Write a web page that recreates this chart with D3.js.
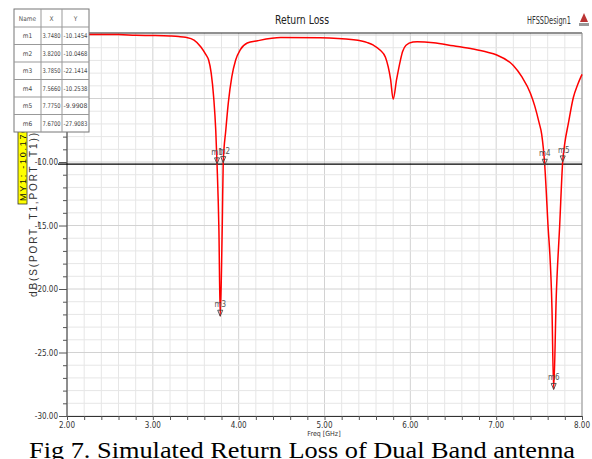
<!DOCTYPE html>
<html lang="en">
<head>
    <meta charset="utf-8">
    <style type="text/css">
        body { margin: 0; background: #fff; }
        svg { display: block; background: #fff; }
        .narrow { font-family: 'Liberation Sans Narrow', 'DejaVu Sans', sans-serif; font-stretch: condensed; }
        .grid line { stroke: #e6e6e6; stroke-width: 1px; }
        .grid line.major { stroke: #d2d2d2; }
        .curve { fill: none; stroke: #ff0000; stroke-width: 1.5px; }
    </style>
</head>
<body>
<svg width="592" height="459"></svg>

<script src="https://cdn.jsdelivr.net/npm/d3@7/dist/d3.min.js"></script>
<script type="text/javascript">

    // S11 curve (GHz / dB)
    var freq = [2.0, 2.3, 2.6, 2.8, 3.0, 3.2, 3.3, 3.38, 3.48, 3.56, 3.62, 3.65, 3.68, 3.71, 3.733, 3.748,
        3.77, 3.785, 3.80, 3.81, 3.82, 3.85, 3.88, 3.92, 3.965, 4.02, 4.1, 4.22, 4.49, 4.95, 5.34, 5.5,
        5.57, 5.65, 5.71, 5.77, 5.8, 5.84, 5.885, 5.91, 5.95, 6.03, 6.08, 6.27, 6.5, 6.73, 6.9, 7.0,
        7.2, 7.3, 7.4, 7.45, 7.5, 7.53, 7.566, 7.6, 7.65, 7.67, 7.70, 7.74, 7.775, 7.8, 7.84, 7.9, 7.95, 8.0];
    var s11 = [0.05, 0.05, 0.04, -0.02, -0.04, -0.08, -0.12, -0.18, -0.4, -0.94, -1.57, -1.97, -3.0, -5.0, -7.5, -10.15,
        -15.4, -22.14, -18.5, -14.5, -10.05, -7.5, -5.3, -3.3, -1.97, -1.15, -0.63, -0.45, -0.2, -0.22, -0.38, -0.6,
        -0.8, -1.2, -1.75, -3.5, -5.05, -3.5, -1.97, -1.3, -0.8, -0.55, -0.52, -0.6, -0.85, -1.1, -1.35, -1.55,
        -2.4, -3.3, -4.6, -5.6, -6.9, -7.8, -10.25, -14.5, -21.5, -27.91, -20.6, -15.0, -9.99, -8.5, -7.0, -4.9, -3.9, -3.1];

    var markerNames = ["m1", "m2", "m3", "m4", "m5", "m6"];
    var markerX = [3.7480, 3.8200, 3.7850, 7.5660, 7.7750, 7.6700];
    var markerY = [-10.1454, -10.0468, -22.1414, -10.2538, -9.9908, -27.9083];

    var xTicks = [2, 3, 4, 5, 6, 7, 8];
    var yTicks = [-30, -25, -20, -15, -10, -5, 0];
    var lineY = -10.17;

    var svg = d3.select("svg");
    var pLeft = 67, pRight = 582, pTop = 33, pBottom = 416;

    var x = d3.scaleLinear().domain([2, 8]).range([pLeft, pRight]);
    var y = d3.scaleLinear().domain([-30, 0.16]).range([pBottom, pTop]);

    // grid
    var grid = svg.append("g").attr("class", "grid");
    var xMinor = d3.range(0, 31).map(function (i) { return 2 + i * 0.2; });
    var yMinor = d3.range(-30, 1, 1);
    grid.selectAll(".gx").data(xMinor).enter().append("line")
        .attr("class", function (d) { return Math.abs(d - Math.round(d)) < 0.01 ? "major" : ""; })
        .attr("x1", function (d) { return x(d); }).attr("x2", function (d) { return x(d); })
        .attr("y1", pTop).attr("y2", pBottom);
    grid.selectAll(".gy").data(yMinor).enter().append("line")
        .attr("class", function (d) { return d % 5 === 0 ? "major" : ""; })
        .attr("x1", pLeft).attr("x2", pRight)
        .attr("y1", function (d) { return y(d); }).attr("y2", function (d) { return y(d); });

    // frame
    svg.append("line").attr("x1", pLeft).attr("x2", pRight).attr("y1", pTop).attr("y2", pTop)
        .attr("stroke", "#222").attr("stroke-width", 1);
    svg.append("line").attr("x1", pRight).attr("x2", pRight).attr("y1", pTop).attr("y2", pBottom)
        .attr("stroke", "#999").attr("stroke-width", 1);

    // axes
    var xAxis = svg.append("g").attr("transform", "translate(0," + pBottom + ")")
        .call(d3.axisBottom(x).tickValues(xMinor).tickSize(4).tickFormat(""));
    xAxis.select(".domain").attr("stroke", "#333");
    xAxis.selectAll(".tick line").attr("stroke", "#555");

    var yAxis = svg.append("g").attr("transform", "translate(" + pLeft + ",0)")
        .call(d3.axisLeft(y).tickValues(yMinor).tickSize(4).tickFormat(""));
    yAxis.select(".domain").attr("stroke", "#333").attr("d", "M0," + pTop + "V" + pBottom);
    yAxis.selectAll(".tick line").attr("stroke", "#555")
        .attr("x2", function (d) { return d % 5 === 0 ? -8 : -4; });

    svg.append("g").selectAll("text").data(xTicks).enter().append("text")
        .attr("class", "narrow")
        .attr("x", function (d) { return x(d); })
        .attr("y", 428)
        .attr("text-anchor", "middle")
        .attr("font-size", 8)
        .attr("fill", "#333")
        .text(function (d) { return d.toFixed(2); });

    svg.append("g").selectAll("text").data(yTicks).enter().append("text")
        .attr("class", "narrow")
        .attr("x", 58)
        .attr("y", function (d) { return y(d) + 3; })
        .attr("text-anchor", "end")
        .attr("font-size", 8)
        .attr("fill", "#333")
        .text(function (d) { return d.toFixed(2); });

    svg.append("text").attr("class", "narrow")
        .attr("x", 324).attr("y", 436)
        .attr("text-anchor", "middle").attr("font-size", 7).attr("fill", "#333")
        .text("Freq [GHz]");

    svg.append("text")
        .attr("font-family", "'Liberation Sans', sans-serif")
        .attr("transform", "translate(37,215) rotate(-90)")
        .attr("text-anchor", "middle").attr("font-size", 10).attr("fill", "#333")
        .attr("textLength", 164).attr("lengthAdjust", "spacing")
        .text("dB(S(PORT_T1,PORT_T1))");

    // MY1 line + label
    svg.append("line").attr("x1", 58).attr("x2", pRight)
        .attr("y1", y(lineY)).attr("y2", y(lineY))
        .attr("stroke", "#000").attr("stroke-width", 1.2);
    svg.append("rect").attr("x", 18).attr("y", 126).attr("width", 9).attr("height", 78)
        .attr("fill", "#ffff00").attr("stroke", "#333").attr("stroke-width", 0.8);
    svg.append("text")
        .attr("font-family", "'Liberation Sans', sans-serif")
        .attr("transform", "translate(25.5,201) rotate(-90)")
        .attr("font-size", 9).attr("fill", "#111")
        .attr("textLength", 80).attr("lengthAdjust", "spacing")
        .text("MY1: -10.1702");

    // curve
    var pts = freq.map(function (f, i) { return [f, s11[i]]; });
    var line = d3.line()
        .x(function (d) { return x(d[0]); })
        .y(function (d) { return y(d[1]); })
        .curve(d3.curveMonotoneX);
    svg.append("path").datum(pts).attr("class", "curve").attr("d", line);

    // markers
    var mk = svg.append("g").selectAll("g").data(markerNames).enter().append("g")
        .attr("transform", function (d, i) { return "translate(" + x(markerX[i]) + "," + y(markerY[i]) + ")"; });
    mk.append("path").attr("d", "M-2.5,-6L2.5,-6L0,0Z")
        .attr("fill", "none").attr("stroke", "#444").attr("stroke-width", 0.9);
    mk.append("text").attr("class", "narrow")
        .attr("x", function (d, i) { return i === 1 || i === 4 ? 1 : 0; })
        .attr("y", -9).attr("text-anchor", "middle")
        .attr("font-size", 8).attr("fill", "#555")
        .text(function (d) { return d; });

    // marker table
    var table = svg.append("g");
    var colX = [14, 41, 62, 89];
    var rowY = [9, 27];
    for (var r = 0; r < markerNames.length; r++) rowY.push(27 + (r + 1) * 17.5);
    table.append("rect").attr("x", colX[0]).attr("y", rowY[0])
        .attr("width", colX[3] - colX[0]).attr("height", rowY[rowY.length - 1] - rowY[0])
        .attr("fill", "#fff").attr("stroke", "#777");
    rowY.slice(1, -1).forEach(function (ry) {
        table.append("line").attr("x1", colX[0]).attr("x2", colX[3]).attr("y1", ry).attr("y2", ry).attr("stroke", "#999");
    });
    colX.slice(1, -1).forEach(function (cx) {
        table.append("line").attr("x1", cx).attr("x2", cx).attr("y1", rowY[0]).attr("y2", rowY[rowY.length - 1]).attr("stroke", "#999");
    });
    var header = ["Name", "X", "Y"];
    header.forEach(function (h, c) {
        table.append("text").attr("class", "narrow")
            .attr("x", (colX[c] + colX[c + 1]) / 2).attr("y", (rowY[0] + rowY[1]) / 2 + 2.5)
            .attr("text-anchor", "middle").attr("font-size", 6.5).attr("fill", "#555").text(h);
    });
    markerNames.forEach(function (n, i) {
        var cy = (rowY[i + 1] + rowY[i + 2]) / 2 + 2.5;
        var cells = [n, markerX[i].toFixed(4), markerY[i].toFixed(4)];
        cells.forEach(function (t, c) {
            var tx = table.append("text").attr("class", "narrow")
                .attr("x", (colX[c] + colX[c + 1]) / 2).attr("y", cy)
                .attr("text-anchor", "middle").attr("font-size", 6.5).attr("fill", "#444").text(t);
            if (c > 0) tx.attr("textLength", colX[c + 1] - colX[c] - 3).attr("lengthAdjust", "spacingAndGlyphs");
        });
    });

    // titles
    svg.append("text").attr("class", "narrow")
        .attr("x", 302).attr("y", 24).attr("text-anchor", "middle")
        .attr("font-size", 12.5).attr("fill", "#222")
        .attr("textLength", 54).attr("lengthAdjust", "spacingAndGlyphs")
        .text("Return Loss");
    svg.append("text").attr("class", "narrow")
        .attr("x", 527).attr("y", 24).attr("font-size", 10).attr("fill", "#333")
        .attr("textLength", 44).attr("lengthAdjust", "spacingAndGlyphs")
        .text("HFSSDesign1");
    var logo = svg.append("g").attr("transform", "translate(584,13)");
    logo.append("path").attr("d", "M0,0L-4,9L4,9Z").attr("fill", "#b33");
    logo.append("rect").attr("x", -5).attr("y", 10).attr("width", 10).attr("height", 3).attr("fill", "#999");

    // caption
    svg.append("text")
        .attr("x", 29).attr("y", 458)
        .attr("font-family", "'Liberation Serif', 'Times New Roman', serif")
        .attr("font-size", 24).attr("fill", "#000")
        .attr("textLength", 546).attr("lengthAdjust", "spacingAndGlyphs")
        .text("Fig 7. Simulated Return Loss of Dual Band antenna");

</script>
</body>
</html>
